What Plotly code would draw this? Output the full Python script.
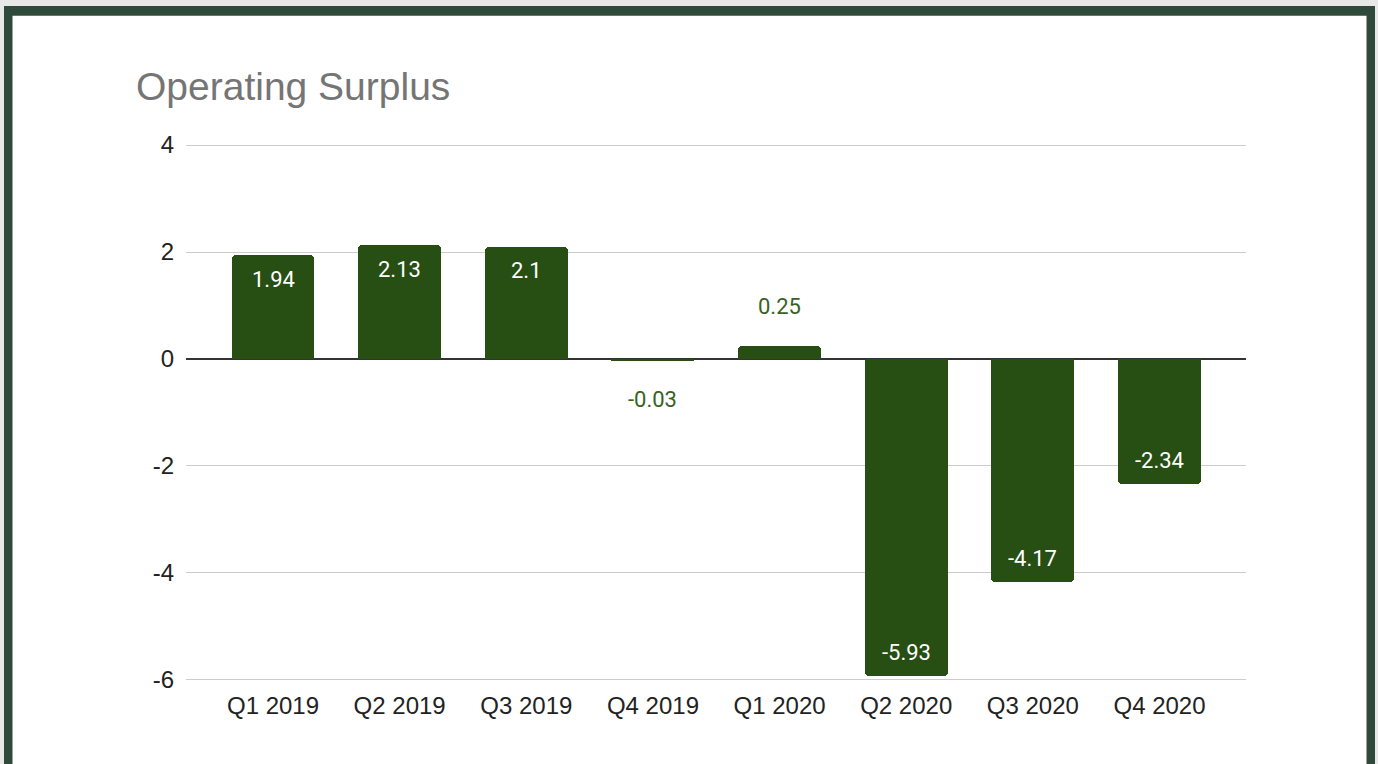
import plotly.graph_objects as go

categories = ["Q1 2019", "Q2 2019", "Q3 2019", "Q4 2019", "Q1 2020", "Q2 2020", "Q3 2020", "Q4 2020"]
values = [1.94, 2.13, 2.1, -0.03, 0.25, -5.93, -4.17, -2.34]
labels = ["1.94", "2.13", "2.1", "-0.03", "0.25", "-5.93", "-4.17", "-2.34"]
y_ticks = [4, 2, 0, -2, -4, -6]

W, H = 1378, 764
L, R, T, B = 186, 132, 144, 83
BAR = "#274e13"
FRAME = "#2f4a3a"

pw, ph = W - L - R, H - T - B


def px_x(x):
    return (x - L) / pw


def px_y(y):
    return (H - B - y) / ph


fig = go.Figure()
fig.add_trace(go.Bar(
    x=list(range(len(categories))), y=values,
    marker=dict(color=BAR, line=dict(width=0)),
    width=0.655, hoverinfo="skip",
))

annotations = []
for i, (v, t) in enumerate(zip(values, labels)):
    inside = abs(v) >= 0.5
    if inside:
        shift = -24 if v > 0 else 24
        col = "white"
    else:
        shift = 39 if v > 0 else -39
        col = "#38621f"
    annotations.append(dict(
        x=i, y=v, xref="x", yref="y", text=t, showarrow=False,
        yanchor="middle", xanchor="center", yshift=shift,
        font=dict(family="Roboto", size=22, color=col),
    ))

annotations.append(dict(
    x=px_x(134), y=px_y(86), xref="paper", yref="paper",
    xanchor="left", yanchor="middle", showarrow=False,
    text="Operating Surplus",
    font=dict(family="Liberation Sans, Arial", size=39, color="#757575"),
))

shapes = [
    dict(type="rect", xref="paper", yref="paper", layer="below",
         x0=px_x(4), x1=px_x(1375), y0=px_y(800), y1=px_y(6),
         fillcolor=FRAME, line=dict(width=0)),
    dict(type="rect", xref="paper", yref="paper", layer="below",
         x0=px_x(12.5), x1=px_x(1366.5), y0=px_y(800), y1=px_y(15.7),
         fillcolor="white", line=dict(width=0)),
]

fig.update_layout(
    width=W, height=H,
    margin=dict(l=L, r=R, t=T, b=B, pad=0),
    paper_bgcolor="#e7e8e7", plot_bgcolor="rgba(0,0,0,0)",
    showlegend=False, bargap=0,
    annotations=annotations, shapes=shapes,
    xaxis=dict(
        range=[-0.687, 7.683], tickmode="array",
        tickvals=list(range(len(categories))), ticktext=categories,
        showgrid=False, zeroline=False, showline=False, ticks="",
        tickfont=dict(family="Liberation Sans, Arial", size=24, color="#222222"),
        ticklabelstandoff=8, fixedrange=True,
    ),
    yaxis=dict(
        range=[-6.02, 4.02], tickmode="array", tickvals=y_ticks,
        ticktext=[str(v) for v in y_ticks],
        showgrid=True, gridcolor="#cccccc", gridwidth=1,
        zeroline=True, zerolinecolor="#333333", zerolinewidth=1.5,
        showline=False, ticks="",
        tickfont=dict(family="Liberation Sans, Arial", size=24, color="#222222"),
        ticklabelstandoff=11, fixedrange=True,
    ),
    barcornerradius=4,
)

fig.write_html(
    "out.html",
    config={"displayModeBar": False},
    post_script="document.body.style.margin='0';document.body.style.overflow='hidden';",
)
